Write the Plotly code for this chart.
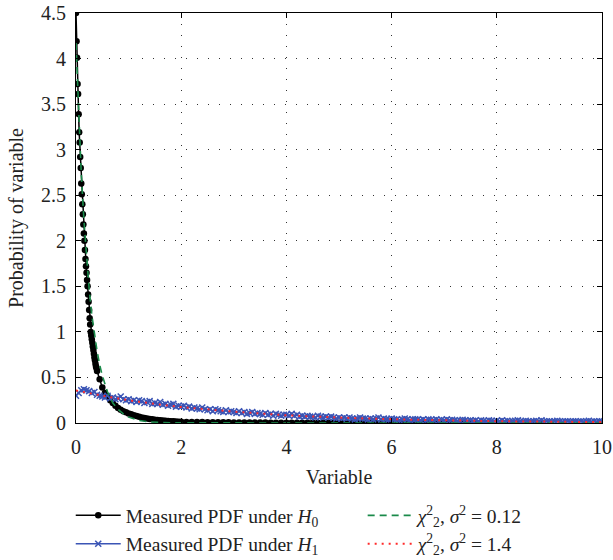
import plotly.graph_objects as go

# ---- Measured PDF under H0 (black) ----
h0_x = [0.00,0.01,0.02,0.03,0.04,0.05,0.06,0.07,0.08,0.09,0.10,
        0.11,0.12,0.13,0.14,0.15,0.16,0.17,0.18,0.19,0.20,
        0.21,0.22,0.23,0.24,0.25,0.26,0.27,0.28,0.29,0.30,
        0.31,0.32,0.33,0.34,0.35,0.36,0.37,0.38,0.39,0.40,
        0.45,0.50,0.55,0.60,0.65,0.70,0.75,0.80,0.85,0.90,0.95,
        1.00,1.05,1.10,1.15,1.20,1.25,1.30,1.35,1.40,1.45,
        1.50,1.55,1.60,1.65,1.70,1.75,1.80,1.85,1.90,1.95,
        2.0,2.1,2.2,2.3,2.4,2.5,2.6,2.7,2.8,2.9,
        3.0,3.1,3.2,3.3,3.4,3.5,3.6,3.7,3.8,3.9,
        4.0,4.1,4.2,4.3,4.4,4.5,4.6,4.7,4.8,4.9,
        5.0,5.1,5.2,5.3,5.4,5.5,5.6,5.7,5.8,5.9,
        6.0,6.1,6.2,6.3,6.4,6.5,6.6,6.7,6.8,6.9,
        7.0,7.1,7.2,7.3,7.4,7.5,7.6,7.7,7.8,7.9,
        8.0,8.1,8.2,8.3,8.4,8.5,8.6,8.7,8.8]
h0_y = [4.50,4.19,4.01,3.72,3.61,3.39,3.19,3.08,2.92,2.80,2.63,
        2.51,2.40,2.29,2.18,2.08,2.00,1.90,1.80,1.72,1.65,
        1.57,1.50,1.41,1.33,1.24,1.15,1.08,1.00,0.96,0.92,
        0.88,0.84,0.80,0.76,0.72,0.69,0.65,0.62,0.60,0.57,
        0.48,0.39,0.33,0.29,0.25,0.22,0.19,0.165,0.145,0.13,0.117,
        0.105,0.095,0.085,0.076,0.068,0.061,0.055,0.050,0.045,0.040,
        0.036,0.033,0.030,0.027,0.024,0.022,0.020,0.018,0.016,0.015,
        0.013,0.012,0.011,0.010,0.010,0.009,0.008,0.008,0.007,0.007,
        0.006,0.006,0.006,0.005,0.005,0.005,0.005,0.004,0.004,0.004,
        0.004,0.004,0.003,0.003,0.003,0.003,0.003,0.003,0.003,0.002,
        0.002,0.002,0.003,0.002,0.002,0.002,0.002,0.002,0.001,0.002,
        0.002,0.001,0.002,0.001,0.001,0.002,0.001,0.001,0.001,0.001,
        0.001,0.001,0.001,0.001,0.001,0.001,0.000,0.001,0.001,0.001,
        0.001,0.000,0.001,0.001,0.000,0.001,0.000,0.001,0.000]

# ---- Measured PDF under H1 (blue) ----
h1_x = [round(0.05 * i, 2) for i in range(201)]
h1_y = [0.30,0.33,0.36,0.37,0.36,0.35,0.33,0.34,0.31,0.30,
        0.29,0.28,0.30,0.27,0.28,0.26,0.27,0.29,0.26,0.25,
        0.26,0.24,0.25,0.23,0.25,0.24,0.22,0.23,0.24,0.21,
        0.22,0.21,0.23,0.20,0.21,0.19,0.20,0.21,0.18,0.19,
        0.18,0.19,0.17,0.18,0.16,0.17,0.16,0.15,0.17,0.15,
        0.14,0.15,0.13,0.15,0.14,0.13,0.12,0.14,0.12,0.13,
        0.12,0.11,0.13,0.11,0.12,0.10,0.11,0.12,0.10,0.11,
        0.10,0.09,0.11,0.09,0.10,0.08,0.10,0.09,0.08,0.09,
        0.09,0.08,0.10,0.08,0.09,0.07,0.08,0.07,0.08,0.07,
        0.07,0.06,0.08,0.07,0.06,0.07,0.06,0.07,0.06,0.05,
        0.06,0.05,0.06,0.05,0.06,0.05,0.04,0.05,0.06,0.05,
        0.05,0.04,0.05,0.04,0.05,0.06,0.04,0.05,0.04,0.04,
        0.05,0.04,0.04,0.03,0.04,0.05,0.04,0.03,0.04,0.04,
        0.04,0.03,0.04,0.03,0.04,0.035,0.03,0.04,0.03,0.035,
        0.03,0.04,0.03,0.035,0.03,0.025,0.03,0.035,0.03,0.025,
        0.03,0.025,0.03,0.02,0.03,0.025,0.02,0.03,0.025,0.02,
        0.025,0.02,0.03,0.02,0.025,0.02,0.02,0.025,0.03,0.02,
        0.02,0.025,0.02,0.015,0.02,0.025,0.02,0.03,0.02,0.02,
        0.02,0.015,0.02,0.025,0.02,0.015,0.02,0.02,0.015,0.02,
        0.02,0.015,0.02,0.015,0.02,0.025,0.015,0.02,0.015,0.02,0.02]

# ---- chi2 curve, sigma^2 = 0.12 (green dashed) ----
g_x = [0.0,0.05,0.10,0.15,0.20,0.25,0.30,0.35,0.40,0.45,0.50,
       0.6,0.7,0.8,0.9,1.0,1.2,1.4,1.6,1.8,2.0,3,4,5,6,7,8,9,10]
g_y = [4.17,3.38,2.74,2.23,1.81,1.47,1.19,0.97,0.79,0.64,0.52,
       0.34,0.22,0.15,0.10,0.065,0.028,0.012,0.005,0.002,0.001,0,0,0,0,0,0,0,0]

# ---- chi2 curve, sigma^2 = 1.4 (red dotted) ----
r_x = [0,0.5,1,1.5,2,2.5,3,3.5,4,4.5,5,5.5,6,6.5,7,7.5,8,8.5,9,9.5,10]
r_y = [0.357,0.30,0.25,0.21,0.175,0.15,0.125,0.105,0.085,0.072,0.06,
       0.05,0.042,0.035,0.03,0.025,0.02,0.017,0.015,0.012,0.01]

x_ticks = [0, 2, 4, 6, 8, 10]
y_ticks = [0, 0.5, 1, 1.5, 2, 2.5, 3, 3.5, 4, 4.5]

FONT = "Liberation Serif"
TXT = "#222"
BLUE = "#3b55b5"

fig = go.Figure()
fig.add_trace(go.Scatter(x=h0_x, y=h0_y, mode="lines+markers",
                         line=dict(color="black", width=1.5),
                         marker=dict(color="black", size=6.5, symbol="circle"),
                         name="Measured PDF under <i>H</i><sub>0</sub>", legend="legend"))
fig.add_trace(go.Scatter(x=h1_x, y=h1_y, mode="lines+markers",
                         line=dict(color=BLUE, width=1.5),
                         marker=dict(color=BLUE, size=6, symbol="x-thin",
                                     line=dict(color=BLUE, width=1.5)),
                         name="Measured PDF under <i>H</i><sub>1</sub>", legend="legend"))
fig.add_trace(go.Scatter(x=g_x, y=g_y, mode="lines",
                         line=dict(color="#1a8a4a", width=1.6, dash="7px,5px"),
                         name="<i>χ</i><sup>2</sup><sub>2</sub>, <i>σ</i><sup>2</sup> = 0.12", legend="legend2"))
fig.add_trace(go.Scatter(x=r_x, y=r_y, mode="lines", line_shape="spline",
                         line=dict(color="#ff2a2a", width=2, dash="2px,5px"),
                         name="<i>χ</i><sup>2</sup><sub>2</sub>, <i>σ</i><sup>2</sup> = 1.4", legend="legend2"))

axis_common = dict(showline=True, linecolor="black", linewidth=1, mirror="ticks",
                   ticks="inside", ticklen=5, tickcolor="black", automargin=False,
                   showgrid=True, gridcolor="#333", gridwidth=1, griddash="1px,10px",
                   zeroline=False, tickfont=dict(family=FONT, size=20, color=TXT))

fig.update_xaxes(range=[0, 10], tickvals=x_ticks, ticklabelstandoff=6,
                 title=dict(text="Variable", font=dict(family=FONT, size=20, color=TXT), standoff=12),
                 **axis_common)
fig.update_yaxes(range=[0, 4.5], tickvals=y_ticks, ticklabelstandoff=5,
                 title=dict(text="Probability of variable", font=dict(family=FONT, size=20, color=TXT), standoff=12),
                 **axis_common)

legend_common = dict(orientation="v", yref="container", yanchor="top", y=0.114,
                     xanchor="left", itemwidth=45, tracegroupgap=0,
                     font=dict(family=FONT, size=19.5, color=TXT),
                     bgcolor="rgba(0,0,0,0)")

fig.update_layout(width=613, height=560,
                  margin=dict(l=76, r=11, t=13, b=137),
                  paper_bgcolor="white", plot_bgcolor="white",
                  font=dict(family=FONT, size=20, color=TXT),
                  showlegend=True,
                  legend=dict(x=-0.01, **legend_common),
                  legend2=dict(x=0.545, **legend_common))

fig.write_html("out.html")
